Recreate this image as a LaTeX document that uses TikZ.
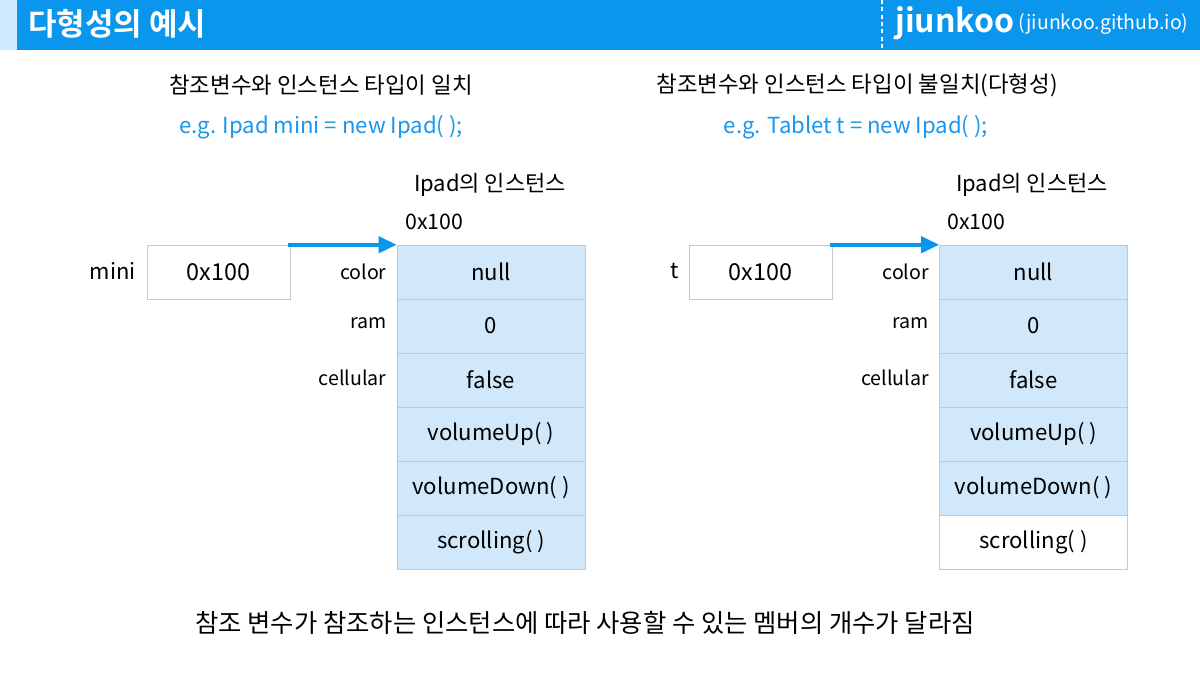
\documentclass[tikz,border=0pt]{standalone}
\usepackage{fontspec}
\setmainfont{Noto Sans CJK KR}[BoldFont={Noto Sans CJK KR Bold}]
\usetikzlibrary{arrows.meta}
\definecolor{barblue}{HTML}{0B96EE}
\definecolor{stripblue}{HTML}{CFE8FB}
\definecolor{cellblue}{HTML}{D0E8FA}
\definecolor{cellline}{HTML}{C8C8C8}
\definecolor{egblue}{HTML}{1996EE}
\tikzset{
  cell/.style={draw=cellline, fill=cellblue, minimum width=141pt, minimum height=40.5pt, inner sep=0pt, font=\fontsize{16.6}{19}\selectfont},
  refbox/.style={draw=cellline, fill=white, minimum width=107.25pt, minimum height=40.5pt, inner sep=0pt, font=\fontsize{17.5}{20}\selectfont},
  field/.style={anchor=east, inner sep=0pt, font=\fontsize{14.7}{17}\selectfont},
  refarrow/.style={barblue, line width=3pt, -{Triangle[length=13.5pt,width=12pt]}}
}
\begin{document}
\begin{tikzpicture}[x=0.75pt, y=-0.75pt]
  \useasboundingbox (0,0) rectangle (1200,675);
  % header
  \fill[stripblue] (0,0) rectangle (17,50);
  \fill[barblue] (17,0) rectangle (1200,50);
  \node[anchor=west, text=white, font=\fontsize{23.2}{26}\bfseries, inner sep=0pt] at (28,24) (title) {다형성의 예시};
  \draw[white, line width=1.5pt, dash pattern=on 3pt off 2.5pt] (882,0) -- (882,50);
  \node[anchor=west, text=white, font=\fontsize{24}{28}\bfseries, inner sep=0pt] at (895,23) (brand) {jiunkoo};
  \node[anchor=west, text=white, font=\fontsize{14.6}{17}\selectfont, inner sep=0pt] at (1018,24) (site) {(jiunkoo.github.io)};

  % left: same type
  \node[font=\fontsize{16.8}{20}\selectfont] at (321,85) (headA) {참조변수와 인스턴스 타입이 일치};
  \node[text=egblue, font=\fontsize{16.6}{20}\selectfont] at (321,127) (egA) {e.g. Ipad mini = new Ipad( );};
  \node[font=\fontsize{16.5}{20}\selectfont] at (490,185) (instA) {Ipad의 인스턴스};
  \foreach \v [count=\i] in {null,0,false,{volumeUp( )},{volumeDown( )},{scrolling( )}}
    \node[cell] at (491,218+54*\i) (a\i) {\v};
  \node[anchor=west, inner sep=0pt, font=\fontsize{16}{19}\selectfont] at (405,222) (addrA) {0x100};
  \node[field] at ([xshift=-7.5pt]a1.west) (fa1) {color};
  \node[field] at ([xshift=-7.5pt,yshift=2pt]a2.west) (fa2) {ram};
  \node[field] at ([xshift=-7.5pt,yshift=2pt]a3.west) (fa3) {cellular};
  \node[refbox] at (218.5,272) (mini) {0x100};
  \node[anchor=east, inner sep=0pt, font=\fontsize{16.5}{19}\selectfont] at (136,271) (mininame) {mini};
  \draw[refarrow] ([xshift=-1.5pt]mini.north east) -- (a1.north west);

  % right: different type
  \node[font=\fontsize{16.8}{20}\selectfont] at (857,85) (headB) {참조변수와 인스턴스 타입이 불일치(다형성)};
  \node[text=egblue, font=\fontsize{16.6}{20}\selectfont] at (856,127) (egB) {e.g. Tablet t = new Ipad( );};
  \node[font=\fontsize{16.5}{20}\selectfont] at (1032,185) (instB) {Ipad의 인스턴스};
  \foreach \v [count=\i] in {null,0,false,{volumeUp( )},{volumeDown( )}}
    \node[cell] at (1033.5,218+54*\i) (b\i) {\v};
  \node[cell, fill=white] at (1033.5,542) (b6) {scrolling( )};
  \node[anchor=west, inner sep=0pt, font=\fontsize{16}{19}\selectfont] at (947,222) (addrB) {0x100};
  \node[field] at ([xshift=-7.5pt]b1.west) (fb1) {color};
  \node[field] at ([xshift=-7.5pt,yshift=2pt]b2.west) (fb2) {ram};
  \node[field] at ([xshift=-7.5pt,yshift=2pt]b3.west) (fb3) {cellular};
  \node[refbox] at (760.5,272) (tref) {0x100};
  \node[anchor=east, inner sep=0pt, font=\fontsize{16.5}{19}\selectfont] at (679,271) (tname) {t};
  \draw[refarrow] ([xshift=-1.5pt]tref.north east) -- (b1.north west);

  \node[font=\fontsize{19}{23}\selectfont] at (585,623) (note) {참조 변수가 참조하는 인스턴스에 따라 사용할 수 있는 멤버의 개수가 달라짐};
\end{tikzpicture}
\end{document}
